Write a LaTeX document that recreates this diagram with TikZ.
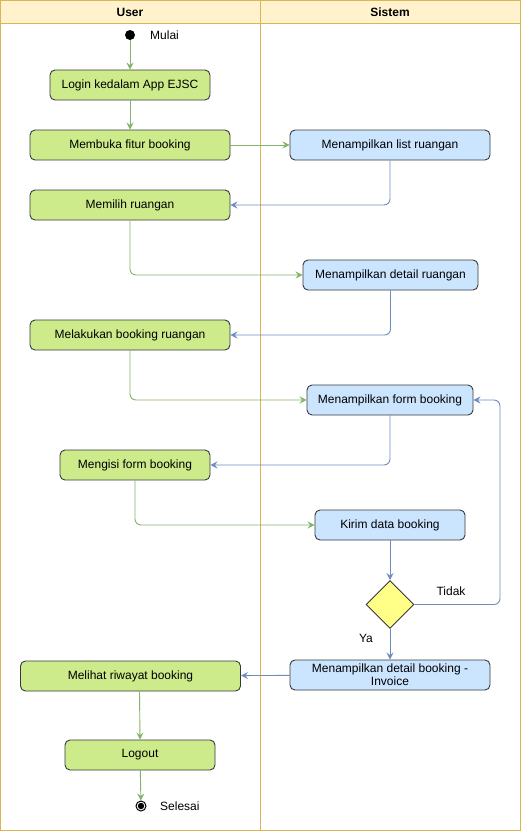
\documentclass[tikz,border=0pt]{standalone}
\usepackage{fontspec}
\setmainfont{Liberation Sans}
\usetikzlibrary{arrows.meta,shapes.geometric,calc}
\definecolor{lanefill}{HTML}{FFF2CC}
\definecolor{laneline}{HTML}{D6B656}
\definecolor{ugreen}{HTML}{CDEB8B}
\definecolor{sblue}{HTML}{CCE5FF}
\definecolor{boxline}{HTML}{36393D}
\definecolor{gedge}{HTML}{82B366}
\definecolor{bedge}{HTML}{6C8EBF}
\definecolor{decfill}{HTML}{FFFF88}
\begin{document}
\begin{tikzpicture}[x=1pt,y=-1pt,
  txt/.style={font=\fontsize{12}{14}\selectfont},
  act/.style={txt, draw=boxline, rounded corners=5pt, minimum height=30pt, inner sep=0pt, line width=0.9pt, align=center},
  uact/.style={act, fill=ugreen},
  sact/.style={act, fill=sblue},
  lane/.style={draw=laneline, line width=1pt},
  edgebase/.style={line width=0.9pt, rounded corners=6pt, -{Stealth[length=7pt,width=7pt,inset=2.5pt]}},
  gline/.style={edgebase, draw=gedge, color=gedge},
  bline/.style={edgebase, draw=bedge, color=bedge},
  lbl/.style={txt, inner sep=0pt}
]
\useasboundingbox (0,0) rectangle (521,831);
% swimlanes
\fill[lanefill] (0.5,0.5) rectangle (520.5,23);
\draw[lane] (0.5,0.5) rectangle (260,830.5);
\draw[lane] (260,0.5) rectangle (520.5,830.5);
\draw[lane] (0.5,23) -- (520.5,23);
\node[txt, font=\fontsize{12}{14}\selectfont\bfseries] (huser) at (130,12) {User};
\node[txt, font=\fontsize{12}{14}\selectfont\bfseries] (hsis) at (390,12) {Sistem};

% start / end
\node[circle, fill=black, minimum size=10pt, inner sep=0pt] (start) at (130,35) {};
\node[lbl, anchor=west] (mulai) at (150,35) {Mulai};

\node[uact, minimum width=160pt] (login) at (130,85) {Login kedalam App EJSC};
\node[uact, minimum width=200pt] (membuka) at (130,145) {Membuka fitur booking};
\node[sact, minimum width=200pt] (list) at (390,145) {Menampilkan list ruangan};
\node[uact, minimum width=200pt] (memilih) at (130,205) {Memilih ruangan};
\node[sact, minimum width=175pt] (detailr) at (390.5,275) {Menampilkan detail ruangan};
\node[uact, minimum width=200pt] (melakukan) at (130,335) {Melakukan booking ruangan};
\node[sact, minimum width=166pt] (form) at (390,400) {Menampilkan form booking};
\node[uact, minimum width=150pt] (mengisi) at (135,465) {Mengisi form booking};
\node[sact, minimum width=150pt] (kirim) at (390,525) {Kirim data booking};
\node[diamond, draw=boxline, fill=decfill, line width=0.9pt, minimum width=48pt, minimum height=48pt, inner sep=0pt] (dec) at (390,604.5) {};
\node[lbl] (tidak) at (451,591) {Tidak};
\node[lbl] (ya) at (366,638) {Ya};
\node[sact, minimum width=200pt, font=\fontsize{12}{13}\selectfont] (invoice) at (390,675) {Menampilkan detail booking -\\Invoice};
\node[uact, minimum width=220pt] (riwayat) at (130.5,676) {Melihat riwayat booking};
\node[uact, minimum width=150pt] (logout) at (140,755) {Logout};

\node[circle, draw=black, fill=white, line width=1pt, minimum size=10pt, inner sep=0pt] (endn) at (141,806) {};
\fill[black] (endn.center) circle (3.2pt);
\node[lbl, anchor=west] (selesai) at (160,806) {Selesai};

\coordinate (tk) at (500,604.5);

% connectors
\draw[gline] (start) -- (login);
\draw[gline] (login) -- (membuka);
\draw[gline] (membuka) -- (list);
\draw[bline] (list.south) |- (memilih.east);
\draw[gline] (memilih.south) |- (detailr.west);
\draw[bline] (detailr.south) |- (melakukan.east);
\draw[gline] (melakukan.south) |- (form.west);
\draw[bline] (form.south) |- (mengisi.east);
\draw[gline] (mengisi.south) |- (kirim.west);
\draw[bline] (kirim) -- (dec);
\draw[bline] (dec.east) -- (tk) |- (form.east);
\draw[bline] (dec) -- (invoice);
\draw[bline] (invoice) -- (riwayat);
\draw[gline] ($(riwayat.south)+(9,0)$) -- (logout.north);
\draw[gline] (logout) -- (endn);
\end{tikzpicture}
\end{document}
